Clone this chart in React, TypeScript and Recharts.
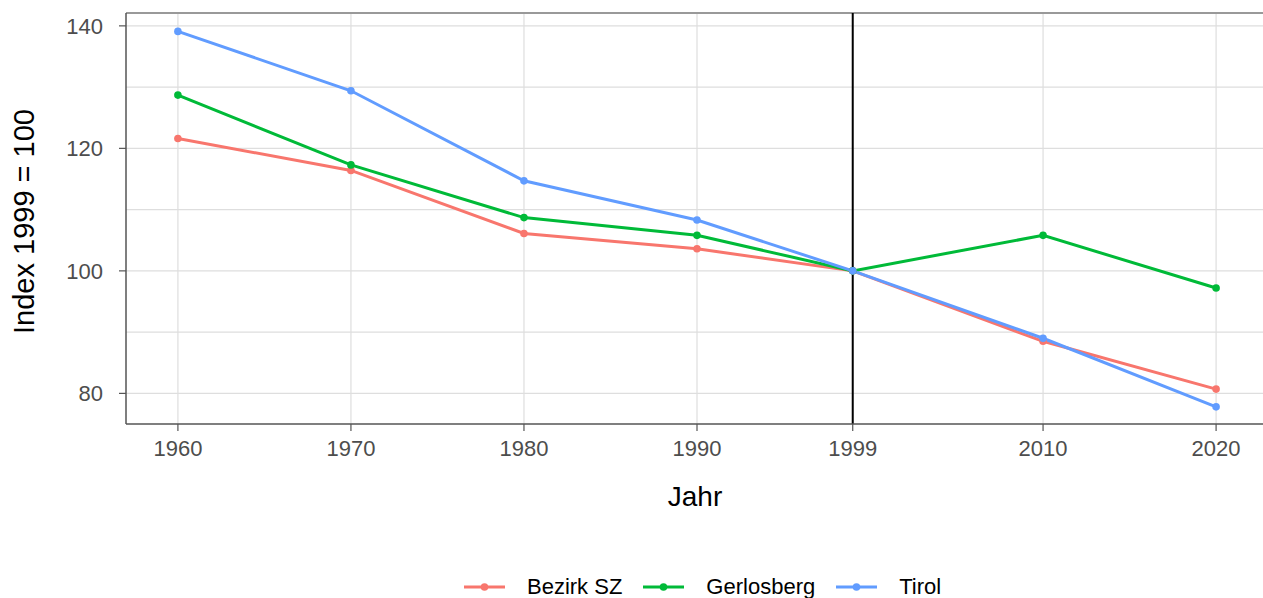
import React from 'react';
import {
  LineChart,
  Line,
  XAxis,
  YAxis,
  CartesianGrid,
  ReferenceLine,
  Legend,
  Label
} from 'recharts';

const years = [1960, 1970, 1980, 1990, 1999, 2010, 2020];
const bezirkSZ = [121.6, 116.4, 106.1, 103.6, 100, 88.5, 80.7];
const gerlosberg = [128.7, 117.3, 108.7, 105.8, 100, 105.8, 97.2];
const tirol = [139.1, 129.4, 114.7, 108.3, 100, 89.0, 77.8];
const yTicks = [80, 100, 120, 140];
const yGrid = [80, 90, 100, 110, 120, 130, 140];

const seriesInfo = [
  { key: 'bezirk', name: 'Bezirk SZ', color: '#F8766D' },
  { key: 'gerlosberg', name: 'Gerlosberg', color: '#00BA38' },
  { key: 'tirol', name: 'Tirol', color: '#619CFF' }
];

const chartData = years.map((year, i) => ({
  year,
  bezirk: bezirkSZ[i],
  gerlosberg: gerlosberg[i],
  tirol: tirol[i]
}));

const Y_MAX = 142.1;
const tickStyle = { fontSize: 22, fill: '#4d4d4d', fontFamily: 'Liberation Sans, Arial, sans-serif' };

function LegendBox() {
  return (
    <div style={{ display: 'flex', alignItems: 'center', height: 28, paddingLeft: 464, fontSize: 22, color: '#000' }}>
      {seriesInfo.map((s) => (
        <div key={s.key} style={{ display: 'flex', alignItems: 'center', marginRight: 21 }}>
          <svg width={41} height={20}>
            <line x1={0} x2={41} y1={10} y2={10} stroke={s.color} strokeWidth={3} />
            <circle cx={20.5} cy={10} r={3.8} fill={s.color} />
          </svg>
          <span style={{ marginLeft: 22, lineHeight: '28px' }}>{s.name}</span>
        </div>
      ))}
    </div>
  );
}

function YTitle(props: any) {
  const vb = props.viewBox;
  const cy = vb.y + vb.height / 2 + 3;
  return (
    <text
      x={24}
      y={cy}
      transform={`rotate(-90, 24, ${cy})`}
      textAnchor="middle"
      dominantBaseline="central"
      fontSize={29}
      fill="#000"
    >
      Index 1999 = 100
    </text>
  );
}

function XTitle(props: any) {
  const vb = props.viewBox;
  return (
    <text x={695} y={vb.y + 82} textAnchor="middle" fontSize={28} fill="#000">
      Jahr
    </text>
  );
}

export default function App() {
  return (
    <div
      style={{
        position: 'absolute',
        left: 0,
        top: 0,
        width: 1263,
        height: 598,
        overflow: 'hidden',
        background: '#fff',
        fontFamily: 'Liberation Sans, Arial, sans-serif'
      }}
    >
      <LineChart width={1268} height={598} data={chartData} margin={{ top: 13, right: 0, bottom: 0, left: 0 }}>
        <CartesianGrid
          stroke="#dedede"
          strokeWidth={1.2}
          horizontalValues={yGrid}
          verticalValues={years}
        />
        <XAxis
          dataKey="year"
          type="number"
          domain={[1957, 2023]}
          allowDataOverflow
          ticks={years}
          interval={0}
          height={146}
          tick={tickStyle}
          tickSize={7}
          tickMargin={9}
          axisLine={{ stroke: '#555', strokeWidth: 1.5 }}
          tickLine={{ stroke: '#555', strokeWidth: 1.2 }}
        >
          <Label content={XTitle} />
        </XAxis>
        <YAxis
          type="number"
          domain={[75, Y_MAX]}
          allowDataOverflow
          ticks={yTicks}
          width={126}
          tick={tickStyle}
          tickSize={7}
          tickMargin={16}
          axisLine={{ stroke: '#555', strokeWidth: 1.5 }}
          tickLine={{ stroke: '#555', strokeWidth: 1.2 }}
        >
          <Label content={YTitle} />
        </YAxis>
        <ReferenceLine y={Y_MAX} stroke="#999" strokeWidth={2} />
        <ReferenceLine x={1999} stroke="#000" strokeWidth={2} />
        <Legend verticalAlign="bottom" wrapperStyle={{ bottom: -3 }} content={() => <LegendBox />} />
        {seriesInfo.map((s) => (
          <Line
            key={s.key}
            type="linear"
            dataKey={s.key}
            name={s.name}
            stroke={s.color}
            strokeWidth={3}
            dot={{ r: 3.8, fill: s.color, stroke: s.color, strokeWidth: 0 }}
            activeDot={false}
            isAnimationActive={false}
          />
        ))}
      </LineChart>
    </div>
  );
}
